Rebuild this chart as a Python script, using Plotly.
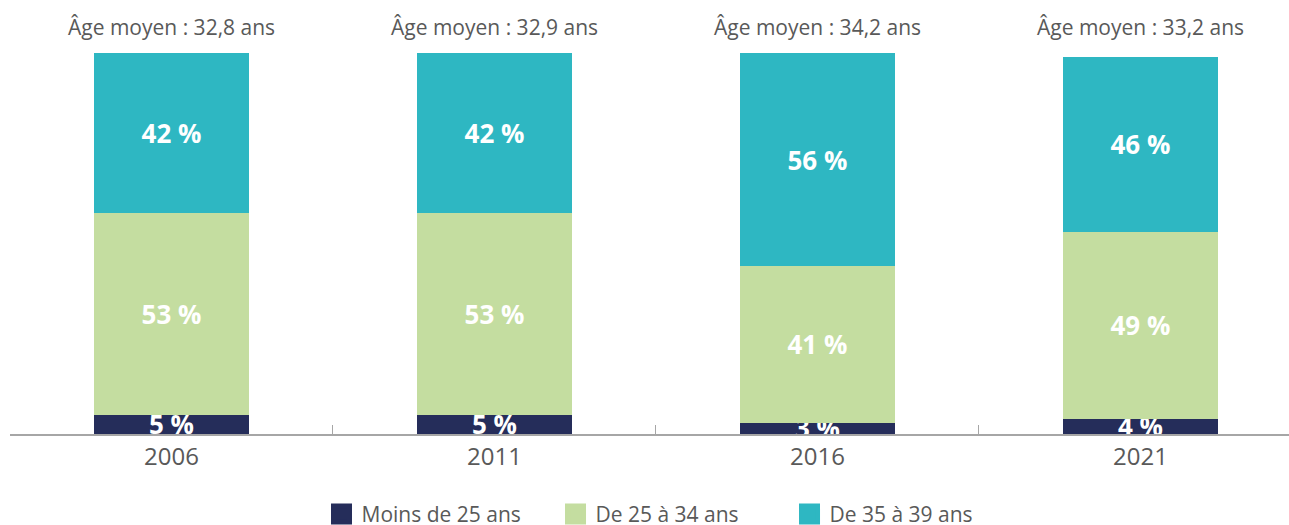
import plotly.graph_objects as go

years = ["2006", "2011", "2016", "2021"]
moins_25 = [5, 5, 3, 4]
de_25_34 = [53, 53, 41, 49]
de_35_39 = [42, 42, 56, 46]
age_moyen = ["32,8", "32,9", "34,2", "33,2"]

series = [
    ("Moins de 25 ans", moins_25, "#252D5A"),
    ("De 25 à 34 ans", de_25_34, "#C4DDA0"),
    ("De 35 à 39 ans", de_35_39, "#2EB7C2"),
]

FONT = "Open Sans"
GREY = "#595959"

fig = go.Figure()
for name, vals, color in series:
    fig.add_trace(go.Bar(
        x=years, y=vals, name=name, showlegend=False,
        marker=dict(color=color, line=dict(width=0)),
        text=[f"{v} %" for v in vals],
        textposition="inside",
        insidetextanchor="middle",
        constraintext="none",
        textangle=0,
        textfont=dict(family=FONT, size=26, color="white", weight="bold"),
        hoverinfo="skip",
    ))

# legend entries (larger square swatches)
for name, vals, color in series:
    fig.add_trace(go.Scatter(
        x=[None], y=[None], name=name, mode="markers",
        marker=dict(symbol="square", size=16, color=color,
                    line=dict(width=5, color=color)),
        hoverinfo="skip",
    ))

for i, a in enumerate(age_moyen):
    fig.add_annotation(
        x=i, y=1, xref="x", yref="paper",
        text=f"Âge moyen : {a} ans", showarrow=False,
        yanchor="bottom", yshift=10,
        font=dict(family=FONT, size=21, color=GREY),
    )

fig.update_layout(
    width=1289, height=525,
    barmode="stack", bargap=0.52,
    margin=dict(l=10, r=0, t=53, b=91, autoexpand=False),
    paper_bgcolor="white", plot_bgcolor="white",
    font=dict(family=FONT, color=GREY),
    showlegend=True,
    legend=dict(
        orientation="h", x=0.518, xanchor="center", y=-0.157, yanchor="top",
        traceorder="normal", entrywidth=189, entrywidthmode="pixels",
        font=dict(family=FONT, size=21, color=GREY),
        itemclick=False, itemdoubleclick=False,
    ),
    xaxis=dict(
        type="category", range=[-0.5, 3.46],
        showline=True, linecolor="#A6A6A6", linewidth=1.5,
        ticks="inside", tickson="boundaries", ticklen=9, tickcolor="#A6A6A6",
        tickfont=dict(family=FONT, size=24, color=GREY),
        showgrid=False, zeroline=False, fixedrange=True,
    ),
    yaxis=dict(range=[0, 100], visible=False, fixedrange=True),
)

fig.write_html("out.html", config={"displayModeBar": False},
               post_script="document.body.style.margin='0';")
